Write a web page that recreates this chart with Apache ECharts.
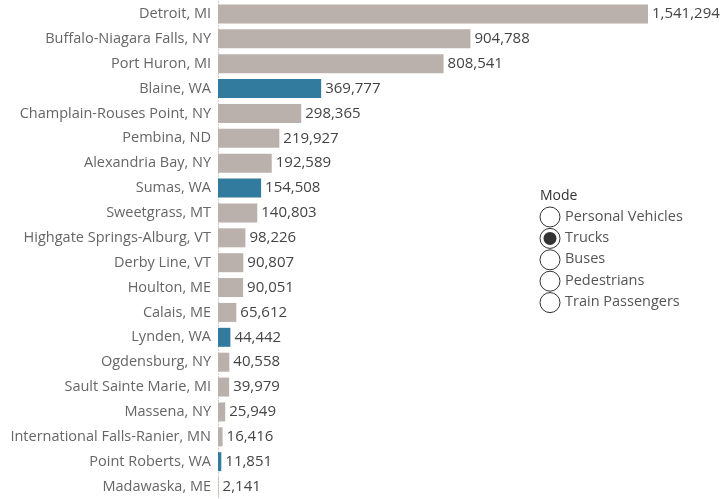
<!DOCTYPE html>
<html>
<head>
<meta charset="utf-8">
<script src="https://cdn.jsdelivr.net/npm/echarts@6/dist/echarts.min.js"></script>
<style>
  html, body { margin: 0; padding: 0; background: #fff; }
  #chart { width: 721px; height: 499px; }
</style>
</head>
<body>
<div id="chart"></div>
<script>
  // ports of entry, top to bottom
  const ports = ['Detroit, MI', 'Buffalo-Niagara Falls, NY', 'Port Huron, MI', 'Blaine, WA',
    'Champlain-Rouses Point, NY', 'Pembina, ND', 'Alexandria Bay, NY', 'Sumas, WA',
    'Sweetgrass, MT', 'Highgate Springs-Alburg, VT', 'Derby Line, VT', 'Houlton, ME',
    'Calais, ME', 'Lynden, WA', 'Ogdensburg, NY', 'Sault Sainte Marie, MI', 'Massena, NY',
    'International Falls-Ranier, MN', 'Point Roberts, WA', 'Madawaska, ME'];
  const trucks = [1541294, 904788, 808541, 369777, 298365, 219927, 192589, 154508,
    140803, 98226, 90807, 90051, 65612, 44442, 40558, 39979, 25949, 16416, 11851, 2141];
  const highlightState = 'WA';
  const modes = ['Personal Vehicles', 'Trucks', 'Buses', 'Pedestrians', 'Train Passengers'];
  const selectedMode = 'Trucks';

  const grey = '#bab0ac';
  const blue = '#337b9e';
  const font = '"Open Sans", "Noto Sans", sans-serif';

  let myChart = echarts.init(document.getElementById('chart'));

  let barData = trucks.map((v, i) => ({
    value: v,
    itemStyle: { color: ports[i].endsWith(highlightState) ? blue : grey }
  }));

  // radio-style legend
  let legendItems = [{
    type: 'text', left: 540, top: 189,
    style: { text: 'Mode', font: '14px ' + font, fill: '#333' }
  }];
  modes.forEach((m, i) => {
    let cy = 217 + i * 21.4;
    legendItems.push({
      type: 'circle', shape: { cx: 550, cy: cy, r: 10 },
      style: { fill: '#fff', stroke: '#333', lineWidth: 1 }
    });
    if (m === selectedMode) {
      legendItems.push({
        type: 'circle', shape: { cx: 550, cy: cy, r: 6.5 },
        style: { fill: '#333' }
      });
    }
    legendItems.push({
      type: 'text', left: 565, top: cy - 8,
      style: { text: m, font: '14.5px ' + font, fill: '#555' }
    });
  });

  myChart.setOption({
    animation: false,
    grid: {
      left: 218,
      top: 1.5,
      width: 430,
      height: 500,
      containLabel: false
    },
    xAxis: {
      type: 'value',
      min: 0,
      max: trucks[0],
      show: false
    },
    yAxis: {
      type: 'category',
      data: ports,
      inverse: true,
      axisLine: {
        show: true,
        lineStyle: { color: '#c8c8c8', type: [1, 2], width: 1 }
      },
      axisTick: { show: false },
      axisLabel: {
        margin: 7,
        color: '#666',
        fontSize: 14.5,
        fontFamily: font
      }
    },
    series: [{
      type: 'bar',
      data: barData,
      barWidth: 19,
      label: {
        show: true,
        position: 'right',
        distance: 4,
        color: '#444',
        fontSize: 15,
        fontFamily: font,
        formatter: p => p.value.toLocaleString('en-US')
      }
    }],
    graphic: legendItems
  });
</script>
</body>
</html>
